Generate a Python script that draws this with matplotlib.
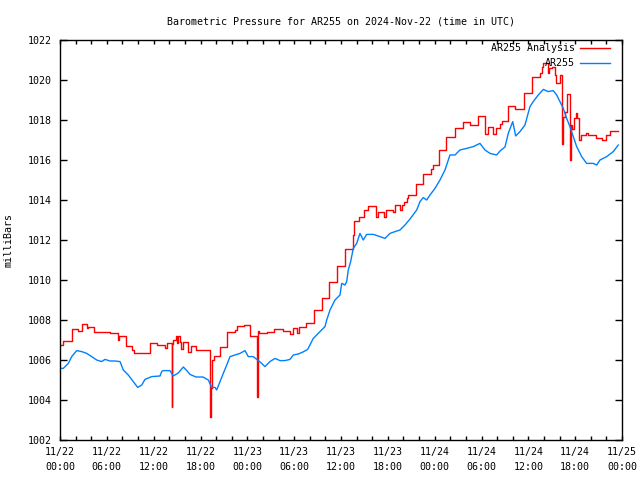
import matplotlib
matplotlib.use("Agg")
import matplotlib.pyplot as plt
import numpy as np

# ---- data (hours since 2024-11-22 00:00 UTC, millibars) ----
red_hours = [0.0, 0.42, 1.5, 2.34, 2.78, 3.42, 3.63, 4.39, 6.41, 7.39, 7.6, 8.46, 9.26, 9.48,
             10.54, 11.53, 12.39, 13.45, 13.75, 14.31, 14.41, 14.51, 14.8, 15.0, 15.12, 15.31,
             15.46, 15.8, 16.44, 16.74, 17.42, 19.22, 19.31, 19.51, 19.73, 20.5, 21.43, 22.42,
             22.64, 23.61, 24.34, 25.28, 25.37, 25.53, 26.48, 27.42, 28.53, 29.46, 29.81, 30.4,
             30.66, 31.51, 32.54, 33.53, 34.5, 35.52, 36.51, 36.73, 37.5, 37.66, 38.34, 38.98,
             39.5, 40.48, 40.78, 41.51, 41.76, 42.7, 42.92, 43.56, 43.77, 44.07, 44.41, 44.62,
             45.61, 46.47, 47.49, 47.82, 48.59, 49.45, 50.6, 51.59, 52.52, 53.59, 54.45, 54.87,
             55.51, 55.85, 56.37, 56.58, 57.43, 58.3, 59.45, 60.43, 61.49, 61.71, 61.91, 62.55,
             62.68, 62.99, 63.41, 63.54, 64.05, 64.37, 64.48, 64.69, 64.91, 65.4, 65.46, 65.55,
             65.85, 66.1, 66.27, 66.53, 66.71, 67.38, 67.68, 68.67, 69.4, 69.95, 70.46, 71.5]
red_values = [1006.75, 1006.97, 1007.53, 1007.47, 1007.79, 1007.59, 1007.67, 1007.39, 1007.33,
              1007.0, 1007.2, 1006.7, 1006.5, 1006.33, 1006.37, 1006.83, 1006.75, 1006.62,
              1006.83, 1003.63, 1006.78, 1007.0, 1007.2, 1006.85, 1007.2, 1006.9, 1006.53,
              1006.88, 1006.38, 1006.72, 1006.5, 1003.13, 1004.58, 1006.0, 1006.22, 1006.63,
              1007.38, 1007.5, 1007.72, 1007.75, 1007.2, 1004.17, 1007.47, 1007.33, 1007.38,
              1007.53, 1007.45, 1007.3, 1007.58, 1007.37, 1007.67, 1007.83, 1008.5, 1009.08,
              1009.92, 1010.7, 1011.55, 1011.53, 1012.25, 1012.97, 1013.17, 1013.5, 1013.7,
              1013.13, 1013.42, 1013.17, 1013.5, 1013.42, 1013.75, 1013.5, 1013.75, 1013.92,
              1014.08, 1014.25, 1014.8, 1015.3, 1015.53, 1015.75, 1016.5, 1017.13, 1017.58,
              1017.92, 1017.75, 1018.2, 1017.3, 1017.63, 1017.3, 1017.58, 1017.8, 1017.97,
              1018.7, 1018.53, 1019.37, 1020.13, 1020.33, 1020.67, 1020.83, 1020.33, 1020.58,
              1020.67, 1020.25, 1019.83, 1020.25, 1016.8, 1018.17, 1018.42, 1019.28, 1016.0,
              1017.75, 1017.53, 1018.08, 1018.33, 1018.08, 1017.0, 1017.25, 1017.33, 1017.25,
              1017.08, 1017.0, 1017.25, 1017.47, 1017.47]

blue_hours = [0.0, 0.42, 1.06, 1.5, 2.14, 2.78, 3.42, 4.06, 4.7, 5.34, 5.76, 6.41, 7.05, 7.69,
              8.11, 8.75, 9.39, 9.95, 10.47, 10.89, 11.75, 12.81, 13.03, 13.23, 14.09, 14.51,
              15.15, 15.8, 16.23, 16.65, 17.42, 18.32, 19.0, 19.43, 19.86, 20.07, 20.5, 20.92,
              21.36, 21.78, 22.42, 23.06, 23.7, 24.12, 24.76, 25.4, 25.84, 26.26, 26.9, 27.54,
              28.18, 28.82, 29.46, 29.89, 30.53, 31.13, 31.73, 32.45, 33.31, 33.95, 34.17,
              34.59, 35.23, 35.87, 36.09, 36.51, 36.73, 36.93, 37.24, 37.57, 38.01, 38.43,
              38.85, 39.29, 40.14, 40.99, 41.63, 42.28, 42.92, 43.56, 44.2, 44.84, 45.7, 46.12,
              46.54, 46.98, 47.4, 48.04, 48.68, 49.32, 49.96, 50.6, 51.24, 52.1, 52.95, 53.8,
              54.45, 55.09, 55.94, 56.37, 57.01, 57.43, 58.0, 58.38, 58.93, 59.57, 60.21,
              60.63, 61.27, 61.92, 62.55, 63.19, 63.63, 64.05, 64.48, 64.91, 65.33, 65.76,
              66.19, 66.83, 67.47, 68.32, 68.75, 69.18, 70.04, 70.88, 71.52]
blue_values = [1005.58, 1005.58, 1005.83, 1006.17, 1006.47, 1006.42, 1006.33, 1006.17, 1006.0,
               1005.92, 1006.03, 1005.95, 1005.95, 1005.92, 1005.5, 1005.25, 1004.92, 1004.63,
               1004.75, 1005.03, 1005.17, 1005.2, 1005.42, 1005.47, 1005.47, 1005.2, 1005.35,
               1005.65, 1005.48, 1005.28, 1005.15, 1005.15, 1005.0, 1004.63, 1004.63, 1004.5,
               1004.92, 1005.33, 1005.75, 1006.17, 1006.25, 1006.33, 1006.47, 1006.17, 1006.17,
               1005.97, 1005.83, 1005.67, 1005.92, 1006.08, 1005.97, 1005.97, 1006.03, 1006.25,
               1006.3, 1006.4, 1006.53, 1007.08, 1007.42, 1007.67, 1008.0, 1008.5, 1009.0,
               1009.25, 1009.83, 1009.75, 1009.92, 1010.5, 1010.92, 1011.58, 1011.83, 1012.33,
               1012.0, 1012.28, 1012.28, 1012.17, 1012.08, 1012.33, 1012.42, 1012.5, 1012.75,
               1013.05, 1013.5, 1013.92, 1014.12, 1014.0, 1014.25, 1014.58, 1015.0, 1015.5,
               1016.25, 1016.25, 1016.5, 1016.58, 1016.67, 1016.83, 1016.5, 1016.33, 1016.25,
               1016.45, 1016.65, 1017.33, 1017.92, 1017.2, 1017.42, 1017.75, 1018.67, 1018.92,
               1019.25, 1019.53, 1019.42, 1019.47, 1019.25, 1018.92, 1018.58, 1018.08, 1017.67,
               1017.17, 1016.67, 1016.17, 1015.83, 1015.83, 1015.75, 1016.0, 1016.17, 1016.42,
               1016.75]

x_tick_hours = [0, 6, 12, 18, 24, 30, 36, 42, 48, 54, 60, 66, 72]
x_tick_labels = ["11/22\n00:00", "11/22\n06:00", "11/22\n12:00", "11/22\n18:00",
                 "11/23\n00:00", "11/23\n06:00", "11/23\n12:00", "11/23\n18:00",
                 "11/24\n00:00", "11/24\n06:00", "11/24\n12:00", "11/24\n18:00",
                 "11/25\n00:00"]
y_ticks = [1002, 1004, 1006, 1008, 1010, 1012, 1014, 1016, 1018, 1020, 1022]
series_labels = ["AR255 Analysis", "AR255"]

plt.rcParams['font.family'] = ['DejaVu Sans Mono']
fs = 7.2

fig = plt.figure(figsize=(6.4, 4.8), dpi=100)
ax = fig.add_axes([60/640, 40/480, 562/640, 400/480])

ax.plot(red_hours, red_values, color='#ff0000', lw=1.0, drawstyle='steps-post')
ax.plot(blue_hours, blue_values, color='#0080ff', lw=1.0)

ax.set_xlim(0, 72)
ax.set_ylim(1002, 1022)
ax.set_xticks(x_tick_hours)
ax.set_xticklabels(x_tick_labels, fontsize=fs, linespacing=1.65)
ax.set_xticks(np.arange(0, 73, 2), minor=True)
ax.set_yticks(y_ticks)
ax.set_yticklabels([str(v) for v in y_ticks], fontsize=fs)
ax.tick_params(axis='x', which='both', direction='in', length=3, width=1, top=True, pad=5)
ax.tick_params(axis='y', which='both', direction='in', length=5, width=1, right=True, pad=6)
for s in ax.spines.values():
    s.set_linewidth(1.0)

ax.set_title("Barometric Pressure for AR255 on 2024-Nov-22 (time in UTC)", fontsize=fs, pad=11)
ax.set_ylabel("milliBars", fontsize=fs, labelpad=10)

# legend (top right, text right-aligned before the sample line)
leg_y = [0.98, 0.9425]
leg_c = ['#ff0000', '#0080ff']
for lab, yy, c in zip(series_labels, leg_y, leg_c):
    ax.text(0.9164, yy, lab, transform=ax.transAxes, ha='right', va='center', fontsize=fs)
    ax.plot([0.925, 0.9786], [yy, yy], transform=ax.transAxes, color=c, lw=1.0, clip_on=False)

fig.savefig("out.png", dpi=100)
